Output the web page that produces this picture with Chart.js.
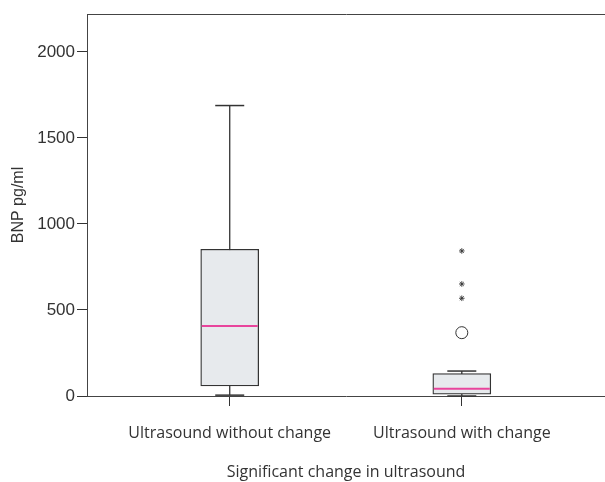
<!DOCTYPE html>
<html>
<head>
<meta charset="utf-8">
<script src="https://cdn.jsdelivr.net/npm/chart.js@4.4.1/dist/chart.umd.min.js"></script>
<style>
  html, body { margin: 0; padding: 0; background: #fff; }
  #wrap { width: 605px; height: 482px; position: relative; }
</style>
</head>
<body>
<div id="wrap"><canvas id="myChart"></canvas></div>
<script>
// Datos (BNP pg/ml por grupo)
const categorias = ['Ultrasound without change', 'Ultrasound with change'];
const posiciones = [1, 2];
const minimos = [5, 0];
const q1 = [58, 10];
const medianas = [407, 42];
const q3 = [853, 130];
const maximos = [1688, 145];
// Atípicos: círculo (moderado) y estrellas (extremos), solo en el grupo 2
const atipicosX = [2];
const atipicosY = [368];
const extremosX = [2, 2, 2];
const extremosY = [843, 651, 568];
const ticksY = [0, 500, 1000, 1500, 2000];

const oscuro = '#333';

// Construir los datos para cada parte de la caja
const cajas = posiciones.map((p, i) => ({ x: p, y: [q1[i], q3[i]] }));
const lineasMediana = posiciones.map((p, i) => ({ x: p, y: medianas[i] }));
const topes = [];
const bigotes = [];
posiciones.forEach((p, i) => {
    topes.push({ x: p, y: minimos[i] }, { x: p, y: maximos[i] });
    // y: null corta la línea entre un grupo y el siguiente
    bigotes.push({ x: p, y: minimos[i] }, { x: p, y: maximos[i] }, { x: p, y: null });
});
const puntosAtipicos = atipicosX.map((x, i) => ({ x: x, y: atipicosY[i] }));
const puntosExtremos = extremosX.map((x, i) => ({ x: x, y: extremosY[i] }));

// Quitar el relleno automático que Chart.js reserva para las etiquetas
function sinRelleno(s) {
    s.paddingLeft = 0; s.paddingRight = 0; s.paddingTop = 0; s.paddingBottom = 0;
}

const ctx = document.getElementById('myChart').getContext('2d');
new Chart(ctx, {
    type: 'bar',
    data: {
        datasets: [
            {   // estrellas
                type: 'line', data: puntosExtremos, showLine: false,
                pointStyle: 'star', pointRadius: 2.8, pointBorderWidth: 0.9,
                pointBorderColor: oscuro, pointBackgroundColor: oscuro, clip: false
            },
            {   // círculo
                type: 'line', data: puntosAtipicos, showLine: false,
                pointStyle: 'circle', pointRadius: 6, pointBorderWidth: 1,
                pointBorderColor: oscuro, pointBackgroundColor: '#fff', clip: false
            },
            {   // mediana
                type: 'line', data: lineasMediana, showLine: false,
                pointStyle: 'line', pointRadius: 28, pointBorderWidth: 2,
                pointBorderColor: '#e8449c', clip: false
            },
            {   // topes de los bigotes
                type: 'line', data: topes, showLine: false,
                pointStyle: 'line', pointRadius: 14.5, pointBorderWidth: 1.5,
                pointBorderColor: oscuro, clip: false
            },
            {   // cajas
                type: 'bar', data: cajas, barThickness: 58,
                backgroundColor: '#e7eaed', borderColor: oscuro,
                borderWidth: 1.3, borderSkipped: false, clip: false
            },
            {   // bigotes
                type: 'line', data: bigotes, spanGaps: false,
                borderColor: oscuro, borderWidth: 1.3, pointRadius: 0, clip: false
            }
        ]
    },
    options: {
        responsive: true,
        maintainAspectRatio: false,
        animation: false,
        events: [],
        layout: { autoPadding: false, padding: { top: 14, right: 0, bottom: 0, left: 0 } },
        plugins: { legend: { display: false }, tooltip: { enabled: false } },
        scales: {
            x: {
                type: 'linear',
                position: 'bottom',
                offset: false,
                min: 0.385,
                max: 2.617,
                afterBuildTicks: (s) => { s.ticks = posiciones.map(v => ({ value: v })); },
                afterFit: (s) => { s.height = 86; sinRelleno(s); },
                grid: { offset: false, drawOnChartArea: false, tickLength: 10, tickColor: oscuro, lineWidth: 1 },
                border: { display: true, color: '#444', width: 1 },
                ticks: {
                    padding: 18,
                    color: oscuro,
                    font: { family: 'Open Sans', size: 16 },
                    callback: (v) => categorias[posiciones.indexOf(v)]
                },
                title: {
                    display: true,
                    text: 'Significant change in ultrasound',
                    color: oscuro,
                    font: { family: 'Open Sans', size: 16 },
                    padding: { top: 0, bottom: 0 }
                }
            },
            xTop: {
                type: 'linear',
                position: 'top',
                offset: false,
                afterFit: (s) => { s.height = 0; sinRelleno(s); },
                grid: { offset: false, drawOnChartArea: false, drawTicks: false },
                border: { display: true, color: '#444', width: 1 },
                ticks: { display: false }
            },
            y: {
                min: 0,
                max: 2220,
                afterBuildTicks: (s) => { s.ticks = ticksY.map(v => ({ value: v })); },
                afterFit: (s) => { s.width = 87; sinRelleno(s); },
                grid: { drawOnChartArea: false, tickLength: 10, tickColor: oscuro, lineWidth: 1 },
                border: { display: true, color: '#444', width: 1 },
                ticks: {
                    padding: 2,
                    color: oscuro,
                    font: { family: 'Liberation Sans', size: 17 },
                    callback: (v) => String(v)
                },
                title: {
                    display: true,
                    text: 'BNP pg/ml',
                    color: oscuro,
                    font: { family: 'Liberation Sans', size: 16 },
                    padding: { top: 9, bottom: 0 }
                }
            }
        }
    }
});
</script>
</body>
</html>
